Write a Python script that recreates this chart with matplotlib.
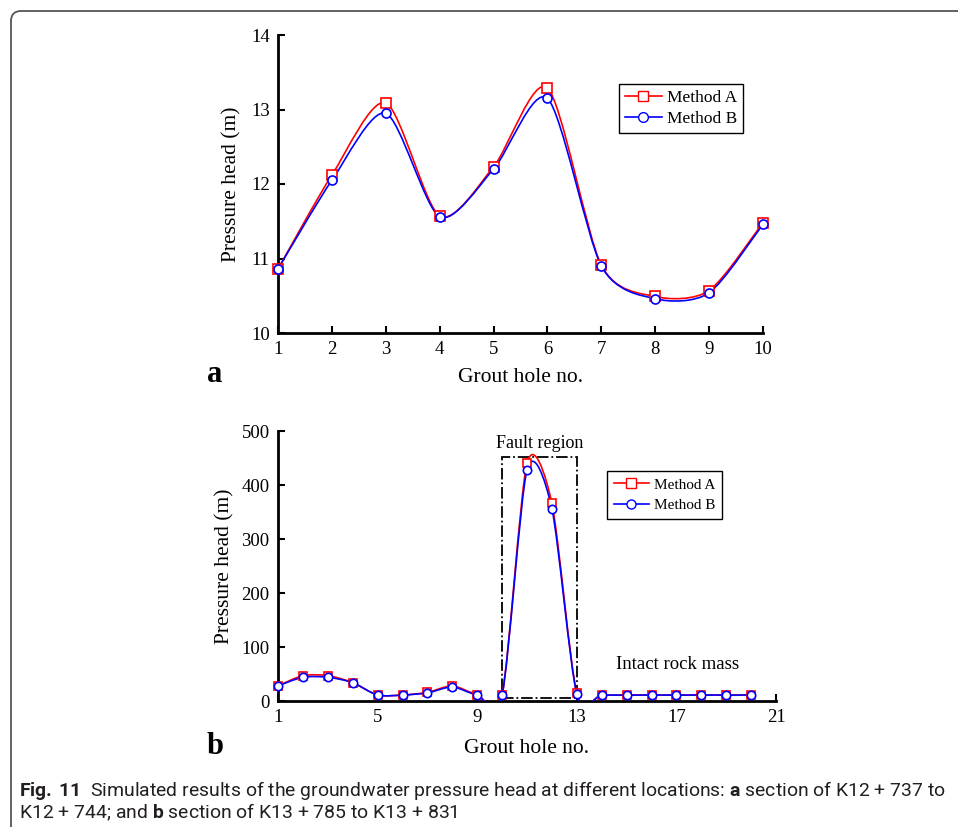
import numpy as np
import matplotlib
matplotlib.use('Agg')
import matplotlib.pyplot as plt
from matplotlib.path import Path
from matplotlib.patches import PathPatch, Rectangle
from matplotlib.lines import Line2D

# panel a data - grout holes 1..10
holes_a = [1, 2, 3, 4, 5, 6, 7, 8, 9, 10]
head_a_method_a = [10.86, 12.12, 13.09, 11.57, 12.23, 13.29, 10.91, 10.49, 10.57, 11.48]
head_a_method_b = [10.86, 12.05, 12.95, 11.56, 12.20, 13.15, 10.90, 10.46, 10.54, 11.46]

# panel b data - grout holes 1..20
holes_b = list(range(1, 21))
head_b_method_a = [28, 47, 47, 34, 11, 11, 16, 28, 12, 12, 440, 366, 14, 11, 11, 11, 11, 11, 11, 11]
head_b_method_b = [28, 44, 44, 34, 11, 11, 15, 26, 11, 11, 428, 356, 13, 11, 11, 11, 11, 11, 11, 11]

fault_x = [10, 13]
fault_y = [5, 452]

CAP_FONT = 'Roboto'
plt.rcParams['font.family'] = ['Liberation Serif', 'DejaVu Serif']
plt.rcParams['mathtext.fontset'] = 'custom'
plt.rcParams['mathtext.rm'] = CAP_FONT
plt.rcParams['mathtext.bf'] = CAP_FONT + ':bold'

RED = '#ff0000'
BLUE = '#0000ff'
TENSION = 0.8


def smooth_path(x, y):
    # smoothed line drawn as cubic bezier segments (catmull-rom style control points)
    n = len(x)
    k = TENSION / 6
    verts = [(x[0], y[0])]
    codes = [Path.MOVETO]
    for i in range(n - 1):
        x0, y0 = (x[i - 1], y[i - 1]) if i > 0 else (x[i], y[i])
        x3, y3 = (x[i + 2], y[i + 2]) if i + 2 < n else (x[i + 1], y[i + 1])
        c1 = (x[i] + (x[i + 1] - x0) * k, y[i] + (y[i + 1] - y0) * k)
        c2 = (x[i + 1] - (x3 - x[i]) * k, y[i + 1] - (y3 - y[i]) * k)
        verts += [c1, c2, (x[i + 1], y[i + 1])]
        codes += [Path.CURVE4] * 3
    return Path(verts, codes)


def draw_series(ax, x, y, color, marker, ms):
    ax.add_patch(PathPatch(smooth_path(x, y), fill=False, edgecolor=color, lw=1.2, zorder=3))
    ax.plot(x, y, ls='none', marker=marker, ms=ms, mfc='white', mec=color, mew=1.2,
            clip_on=False, zorder=4)


def style_axes(ax):
    for s in ['top', 'right']:
        ax.spines[s].set_visible(False)
    for s in ['left', 'bottom']:
        ax.spines[s].set_linewidth(2)
    ax.tick_params(direction='in', length=5, width=1.5, labelsize=13.5, pad=6)


def make_legend(ax, anchor, size, ms, pad, spacing, hlen):
    handles = [Line2D([], [], color=RED, lw=1.2, marker='s', ms=ms, mfc='white', mec=RED),
               Line2D([], [], color=BLUE, lw=1.2, marker='o', ms=ms, mfc='white', mec=BLUE)]
    leg = ax.legend(handles, ['Method A', 'Method B'], loc='upper left', bbox_to_anchor=anchor,
                    fontsize=size, fancybox=False, edgecolor='black', framealpha=1,
                    handlelength=hlen, handletextpad=0.3, borderpad=pad, labelspacing=spacing,
                    borderaxespad=0)
    leg.get_frame().set_linewidth(1.0)
    return leg


fig = plt.figure(figsize=(9.58, 8.27), dpi=100)

# page frame with rounded corner
frame = fig.add_axes([0, 0, 1, 1])
frame.set_xlim(0, 958)
frame.set_ylim(827, 0)
frame.axis('off')
r = 10
frame_path = Path([(11, 830), (11, 11 + r), (11, 11), (11 + r, 11), (960, 11)],
                  [Path.MOVETO, Path.LINETO, Path.CURVE3, Path.CURVE3, Path.LINETO])
frame.add_patch(PathPatch(frame_path, fill=False, edgecolor='#555555', lw=1.3))

# panel a
ax1 = fig.add_axes([278 / 958, 1 - 333 / 827, (763 - 278) / 958, (333 - 35) / 827])
draw_series(ax1, holes_a, head_a_method_a, RED, 's', 6.5)
draw_series(ax1, holes_a, head_a_method_b, BLUE, 'o', 6.5)
ax1.set_xlim(1, 10)
ax1.set_ylim(10, 14)
ax1.set_xticks(holes_a)
ax1.set_yticks([10, 11, 12, 13, 14])
style_axes(ax1)
ax1.set_xlabel('Grout hole no.', fontsize=15.5, labelpad=7)
ax1.set_ylabel('Pressure head (m)', fontsize=15.5, labelpad=7)
make_legend(ax1, ((619 - 278) / 485, (333 - 84) / 298), 12.5, 7, 0.35, 0.25, 2.1)
fig.text(207 / 958, 1 - 375 / 827, 'a', fontsize=22, fontweight='bold', va='center', ha='left')

# panel b
ax2 = fig.add_axes([278 / 958, 1 - 701 / 827, (776 - 278) / 958, (701 - 431) / 827])
draw_series(ax2, holes_b, head_b_method_a, RED, 's', 6)
draw_series(ax2, holes_b, head_b_method_b, BLUE, 'o', 6)
ax2.set_xlim(1, 21)
ax2.set_ylim(0, 500)
ax2.set_xticks([1, 5, 9, 13, 17, 21])
ax2.set_yticks([0, 100, 200, 300, 400, 500])
style_axes(ax2)
ax2.set_xlabel('Grout hole no.', fontsize=15.5, labelpad=9)
ax2.set_ylabel('Pressure head (m)', fontsize=15.5, labelpad=5)

ax2.add_patch(Rectangle((fault_x[0], fault_y[0]), fault_x[1] - fault_x[0], fault_y[1] - fault_y[0],
                        fill=False, edgecolor='black', lw=1.3, ls='-.', zorder=2))
ax2.text(sum(fault_x) / 2, 462, 'Fault region', ha='center', va='bottom', fontsize=13)
ax2.text(17.05, 67, 'Intact rock mass', ha='center', va='center', fontsize=13.5)
make_legend(ax2, ((607 - 278) / 498, (701 - 471) / 270), 11, 6.5, 0.45, 0.45, 2.3)
fig.text(207 / 958, 1 - 746 / 827, 'b', fontsize=22, fontweight='bold', va='center', ha='left')

# caption, sized so that the first line spans the same width as in the figure
cap1 = (r'$\mathbf{Fig.\,11}$  Simulated results of the groundwater pressure head at different '
        r'locations: $\mathbf{a}$ section of K12 + 737 to')
cap2 = r'K12 + 744; and $\mathbf{b}$ section of K13 + 785 to K13 + 831'
t1 = fig.text(19 / 958, 1 - 790 / 827, cap1, fontsize=13, family=CAP_FONT,
              color='#231f20', va='center', ha='left')
t2 = fig.text(19 / 958, 1 - 812 / 827, cap2, fontsize=13, family=CAP_FONT,
              color='#231f20', va='center', ha='left')
fig.canvas.draw()
w = t1.get_window_extent().width
size = 13 * 924 / w
t1.set_fontsize(size)
t2.set_fontsize(size)

fig.savefig('out.png', dpi=100)
